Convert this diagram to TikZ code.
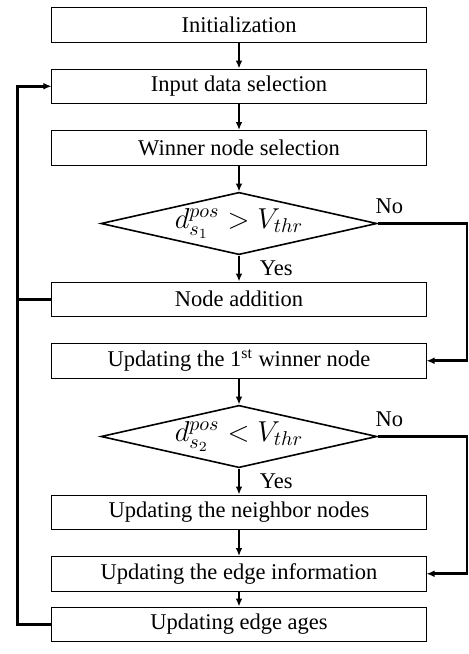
\documentclass[tikz,border=0pt]{standalone}
\usepackage{fontspec}
\setmainfont{Liberation Serif}
\usetikzlibrary{arrows.meta,positioning,shapes.geometric}
\definecolor{ink}{HTML}{000000}
\tikzset{
  box/.style={draw=ink,line width=0.5pt,minimum width=187pt,minimum height=17.25pt,inner sep=1.5pt,align=center},
  decision/.style={draw=ink,diamond,line width=0.8pt,aspect=4.3,minimum width=138pt,minimum height=31.2pt,inner sep=0pt,font=\fontsize{14}{16}\selectfont},
  flow/.style={-{Latex[length=4pt,width=3.4pt]},line width=1.3pt,draw=ink},
  backline/.style={line width=1.3pt,draw=ink}
}

\begin{document}
\begin{tikzpicture}[node distance=13pt,font=\fontsize{11.25}{13.5}\selectfont]
    \useasboundingbox (-119.5pt,12.375pt) rectangle (114.5pt,-314.625pt);
    \node[box] (init) {Initialization};
    \node[box,below=of init] (input) {Input data selection};
    \node[box,below=of input] (winner) {Winner node selection};
    \node[decision,below=of winner] (check1) {$d^{pos}_{s_1} > V_{thr}$};
    \node[box,below=of check1] (addnode) {Node addition};
    \node[box,below=of addnode] (upfirst) {Updating the 1\textsuperscript{st} winner node};
    \node[decision,below=of upfirst] (check2) {$d^{pos}_{s_2} < V_{thr}$};
    \node[box,below=of check2] (upneigh) {Updating the neighbor nodes};
    \node[box,below=of upneigh] (upedge) {Updating the edge information};
    \node[box,below=7.5pt of upedge] (upages) {Updating edge ages};

    \draw[flow] (init) -- (input);
    \draw[flow] (input) -- (winner);
    \draw[flow] (winner) -- (check1);
    \draw[flow] (check1) -- node[right,xshift=6.5pt] (yes1) {Yes} (addnode);
    \draw[flow] (check1.east) -- node[above,pos=0.13,yshift=1pt] (no1) {No} ++(44.5pt,0) |- (upfirst.east);
    \draw[flow] (upfirst) -- (check2);
    \draw[flow] (check2) -- node[right,xshift=6.5pt] (yes2) {Yes} (upneigh);
    \draw[flow] (check2.east) -- node[above,pos=0.13,yshift=1pt] (no2) {No} ++(44.5pt,0) |- (upedge.east);
    \draw[flow] (upneigh) -- (upedge);
    \draw[flow] (upedge) -- (upages);
    \draw[flow] (upages.west) -- ++(-17pt,0) |- (input.west);
    \draw[backline] (addnode.west) -- ++(-17pt,0);
  \end{tikzpicture}
\end{document}
